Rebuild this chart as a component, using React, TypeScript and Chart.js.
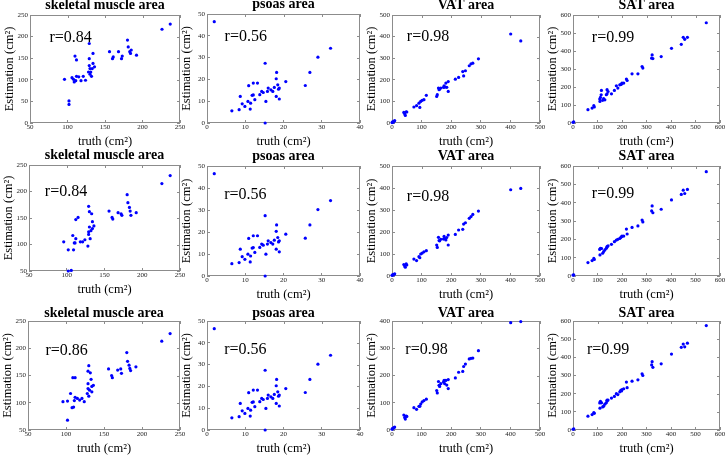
import React, { useEffect, useRef } from "react";
import { Chart, registerables } from "chart.js";

Chart.register(...registerables);

const FONT = "'Liberation Serif', 'Times New Roman', Times, serif";

// ---- text ----
const panelTitles = ["skeletal muscle area", "psoas area", "VAT area", "SAT area"];
const xAxisLabel = "truth (cm²)";
const yAxisLabel = "Estimation (cm²)";
const rLabelsRow1 = ["r=0.84", "r=0.56", "r=0.98", "r=0.99"];
const rLabelsRow2 = ["r=0.84", "r=0.56", "r=0.98", "r=0.99"];
const rLabelsRow3 = ["r=0.86", "r=0.56", "r=0.98", "r=0.99"];

// ---- data: skeletal muscle ----
const skeletalTruth = [96, 102, 102, 106, 108, 109, 110, 111, 112, 112, 115, 118, 121, 124, 128, 129, 129, 129, 130, 130, 131, 132, 133, 134, 134, 136, 156, 160, 161, 168, 172, 173, 180, 181, 183, 184, 185, 192, 226, 237];
const skeletalEst1 = [101, 51, 43, 105, 101, 95, 155, 98, 146, 108, 107, 98, 108, 99, 118, 184, 149, 133, 126, 113, 118, 108, 126, 161, 138, 130, 165, 149, 153, 165, 149, 155, 192, 176, 165, 161, 169, 157, 217, 229];
const skeletalEst2 = [105, 90, 50, 51, 117, 90, 103, 103, 147, 111, 151, 105, 105, 109, 97, 119, 124, 172, 162, 133, 111, 126, 158, 143, 130, 135, 163, 151, 148, 160, 158, 155, 194, 179, 170, 163, 155, 160, 215, 230];
const skeletalEst3 = [102, 103, 68, 117, 91, 146, 92, 104, 110, 146, 108, 105, 108, 102, 117, 126, 135, 158, 168, 112, 123, 155, 143, 130, 120, 132, 162, 150, 146, 160, 162, 154, 192, 176, 169, 163, 159, 166, 213, 227];

// ---- data: psoas ----
const psoasTruth = [1.9, 6.5, 8.4, 8.7, 9.2, 9.9, 10.7, 10.9, 11.3, 11.4, 11.8, 12.1, 12.1, 12.5, 13.2, 13.8, 14.3, 14.7, 15.2, 15.4, 15.2, 15.8, 16.0, 16.7, 17.2, 17.6, 18.1, 18.2, 18.1, 18.5, 18.7, 18.9, 18.9, 20.6, 25.7, 26.9, 29.0, 32.3];
const psoasEst = [46.5, 5.6, 6.1, 12.2, 8.8, 7.6, 9.9, 17.1, 6.4, 9.1, 12.7, 12.9, 18.3, 10.7, 18.3, 13, 14.5, 14, 27.4, 9.9, 0, 14.5, 16, 15.2, 14.5, 16.3, 20.3, 23.2, 12.2, 17.5, 15.5, 16, 11, 19, 17.2, 23.2, 30.2, 34.3];

// ---- data: VAT ----
const vatTruth = [0, 2, 4, 7, 9, 40, 43, 45, 48, 50, 74, 83, 91, 94, 97, 102, 108, 116, 151, 153, 157, 159, 161, 165, 174, 176, 178, 182, 185, 190, 190, 214, 225, 239, 242, 248, 261, 267, 273, 292, 401, 435];
const vatEst1 = [2, 5, 4, 8, 11, 49, 42, 35, 52, 51, 74, 80, 92, 72, 100, 105, 108, 128, 123, 131, 162, 154, 157, 162, 165, 172, 166, 185, 165, 146, 192, 203, 211, 238, 218, 242, 265, 274, 277, 297, 412, 380];
const vatEst2 = [3, 5, 6, 8, 10, 52, 45, 40, 55, 50, 77, 70, 88, 83, 100, 104, 110, 115, 141, 130, 176, 161, 160, 167, 168, 180, 170, 164, 175, 141, 186, 189, 209, 212, 236, 242, 262, 270, 280, 295, 392, 398];
const vatEst3 = [3, 5, 7, 9, 11, 55, 46, 40, 51, 50, 82, 76, 87, 87, 95, 103, 108, 113, 145, 136, 178, 164, 160, 170, 176, 182, 170, 182, 165, 152, 185, 191, 212, 215, 233, 242, 261, 263, 264, 291, 394, 398];

// ---- data: SAT ----
const satTruth = [0, 3, 61, 78, 85, 87, 109, 110, 112, 115, 116, 121, 125, 130, 136, 139, 139, 143, 157, 169, 177, 183, 191, 195, 198, 200, 207, 218, 221, 241, 265, 282, 285, 321, 323, 326, 360, 402, 442, 450, 456, 467, 544];
const satEst1 = [4, 6, 74, 83, 96, 89, 133, 120, 142, 157, 181, 126, 135, 129, 157, 162, 185, 175, 162, 181, 207, 194, 212, 214, 216, 222, 222, 244, 236, 273, 273, 314, 305, 360, 378, 358, 369, 415, 437, 476, 465, 476, 557];
const satEst2 = [5, 6, 73, 84, 96, 90, 145, 115, 151, 150, 150, 124, 133, 142, 151, 160, 158, 165, 173, 187, 196, 200, 205, 210, 214, 218, 218, 256, 229, 265, 273, 305, 295, 355, 382, 345, 364, 415, 445, 468, 450, 472, 569];
const satEst3 = [4, 6, 76, 85, 96, 92, 149, 120, 158, 150, 150, 127, 131, 142, 150, 160, 164, 165, 176, 185, 200, 195, 210, 218, 215, 222, 227, 264, 233, 269, 276, 309, 300, 358, 376, 345, 364, 418, 455, 473, 458, 478, 575];

// ---- axis ranges / ticks ----
const xRanges = [[50, 250], [0, 40], [0, 500], [0, 600]];
const xSteps = [50, 10, 100, 100];
const yRangesRow1 = [[0, 250], [0, 50], [0, 500], [0, 600]];
const yRangesRow2 = [[50, 250], [0, 50], [0, 500], [0, 600]];
const yRangesRow3 = [[50, 250], [0, 50], [0, 400], [0, 600]];
const ySteps = [50, 10, 100, 100];

// position of the r= annotation, in data units
const rPosRow1 = [[76, 198], [4.6, 39.5], [50, 397], [77, 476]];
const rPosRow2 = [[71, 199], [4.5, 37], [50, 360], [77, 451]];
const rPosRow3 = [[73, 196], [4.5, 36.6], [45, 293], [57, 439]];

const truths = [skeletalTruth, psoasTruth, vatTruth, satTruth];
const estimates = [
  [skeletalEst1, psoasEst, vatEst1, satEst1],
  [skeletalEst2, psoasEst, vatEst2, satEst2],
  [skeletalEst3, psoasEst, vatEst3, satEst3],
];
const yRanges = [yRangesRow1, yRangesRow2, yRangesRow3];
const rLabels = [rLabelsRow1, rLabelsRow2, rLabelsRow3];
const rPos = [rPosRow1, rPosRow2, rPosRow3];

// ---- layout (plot boxes in page pixels: left, top, right, bottom) ----
const BOXES = [
  [[30, 15, 180, 123], [207, 14, 360, 123], [392, 15, 540, 123], [573, 15, 720, 123]],
  [[29, 165, 180, 271], [207, 166, 360, 276], [392, 166, 540, 276], [573, 166, 720, 276]],
  [[28, 321, 180, 430], [207, 321, 360, 430], [392, 321, 540, 430], [573, 321, 720, 430]],
];
const TITLE_PAD = [3, 3, 1];
const Y_W = 30;
const X_H = 30;
const PAD_R = 12;
const TITLE_SIZE = 14;
const FRAME = "#8c8c8c";
const LABEL = "#222";

function Panel({ row, col }: { row: number; col: number }) {
  const ref = useRef<HTMLCanvasElement>(null);
  const [l, t, r, b] = BOXES[row][col];
  const titleH = TITLE_SIZE + TITLE_PAD[row];
  const left = l - Y_W;
  const top = t - titleH;
  const W = r - left + PAD_R;
  const H = titleH + (b - t) + X_H;

  useEffect(() => {
    const truth = truths[col];
    const est = estimates[row][col];
    const [rx, ry] = rPos[row][col];
    const rText = rLabels[row][col];

    const framePlugin = {
      id: "frame",
      beforeDatasetsDraw(chart: any) {
        const { ctx, chartArea: a, scales } = chart;
        ctx.save();
        ctx.strokeStyle = FRAME;
        ctx.lineWidth = 1;
        ctx.strokeRect(a.left + 0.5, a.top + 0.5, a.width - 1, a.height - 1);
        ctx.beginPath();
        for (const tk of scales.x.ticks) {
          const px = Math.round(scales.x.getPixelForValue(tk.value)) + 0.5;
          ctx.moveTo(px, a.top);
          ctx.lineTo(px, a.top + 3);
        }
        for (const tk of scales.y.ticks) {
          const py = Math.round(scales.y.getPixelForValue(tk.value)) + 0.5;
          ctx.moveTo(a.right, py);
          ctx.lineTo(a.right - 3, py);
        }
        ctx.stroke();
        ctx.restore();
      },
    };
    const rPlugin = {
      id: "rlabel",
      afterDatasetsDraw(chart: any) {
        const { ctx, scales } = chart;
        ctx.save();
        ctx.font = `16px ${FONT}`;
        ctx.fillStyle = "#000";
        ctx.textAlign = "left";
        ctx.textBaseline = "middle";
        ctx.fillText(rText, scales.x.getPixelForValue(rx), scales.y.getPixelForValue(ry));
        ctx.restore();
      },
    };

    const chart = new Chart(ref.current as HTMLCanvasElement, {
      type: "scatter",
      data: {
        datasets: [
          {
            data: truth.map((x, i) => ({ x, y: est[i] })),
            backgroundColor: "#0000ff",
            borderColor: "#0000ff",
            borderWidth: 0,
            pointRadius: 1.6,
            pointHoverRadius: 1.6,
            clip: false as any,
          },
        ],
      },
      options: {
        responsive: false,
        animation: false,
        devicePixelRatio: 1,
        layout: { padding: { left: 0, right: PAD_R, top: 0, bottom: 0 } },
        plugins: {
          legend: { display: false },
          tooltip: { enabled: false },
          title: {
            display: true,
            text: panelTitles[col],
            fullSize: false,
            color: "#000",
            font: { family: FONT, size: TITLE_SIZE, weight: "bold", lineHeight: 1 },
            padding: { top: 0, bottom: TITLE_PAD[row] },
          },
        },
        scales: {
          x: {
            type: "linear",
            position: "bottom",
            min: xRanges[col][0],
            max: xRanges[col][1],
            ticks: {
              stepSize: xSteps[col],
              autoSkip: false,
              maxRotation: 0,
              padding: 3,
              color: LABEL,
              font: { family: FONT, size: 7 },
            },
            grid: { drawOnChartArea: false, drawTicks: true, tickLength: -3, color: FRAME },
            border: { display: false },
            title: {
              display: true,
              text: xAxisLabel,
              color: "#000",
              font: { family: FONT, size: 12.5, lineHeight: 1.2 },
              padding: { top: 0, bottom: 3.5 },
            },
            afterFit: (s: any) => {
              s.height = X_H;
            },
          },
          y: {
            type: "linear",
            position: "left",
            min: yRanges[row][col][0],
            max: yRanges[row][col][1],
            ticks: {
              stepSize: ySteps[col],
              autoSkip: false,
              padding: 5,
              color: LABEL,
              font: { family: FONT, size: 7 },
            },
            grid: { drawOnChartArea: false, drawTicks: true, tickLength: -3, color: FRAME },
            border: { display: false },
            title: {
              display: true,
              text: yAxisLabel,
              color: "#000",
              font: { family: FONT, size: 12.5, lineHeight: 1.2 },
              padding: { top: 2.5, bottom: 0 },
            },
            afterFit: (s: any) => {
              s.width = Y_W;
            },
          },
        },
      } as any,
      plugins: [framePlugin, rPlugin],
    });
    return () => chart.destroy();
  }, [row, col]);

  return (
    <canvas
      ref={ref}
      width={W}
      height={H}
      style={{ position: "absolute", left, top, width: W, height: H }}
    />
  );
}

export default function App() {
  const cells = [];
  for (let row = 0; row < 3; row++) {
    for (let col = 0; col < 4; col++) {
      cells.push(<Panel key={`${row}-${col}`} row={row} col={col} />);
    }
  }
  return (
    <div
      style={{
        position: "absolute",
        left: 0,
        top: 0,
        width: 727,
        height: 457,
        overflow: "hidden",
        background: "#fff",
      }}
    >
      {cells}
    </div>
  );
}
